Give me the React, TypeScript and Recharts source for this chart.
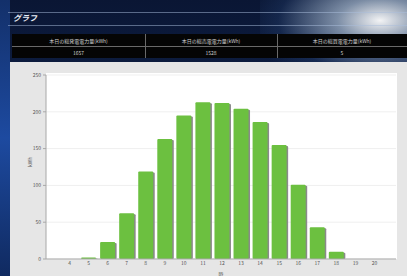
import { BarChart, Bar, XAxis, YAxis, CartesianGrid, Label } from 'recharts';

const hours = ['4', '5', '6', '7', '8', '9', '10', '11', '12', '13', '14', '15', '16', '17', '18', '19', '20'];
const energy = [0, 2, 23, 62, 119, 163, 195, 213, 212, 204, 186, 155, 101, 43, 10, 0, 0];
const yTicks = [0, 50, 100, 150, 200, 250];

const summaryLabels = ['本日の総発電電力量(kWh)', '本日の総売電電力量(kWh)', '本日の総買電電力量(kWh)'];
const summaryValues = ['1657', '1528', '5'];

const data = hours.map((h, i) => ({ hour: h, kwh: energy[i] }));

const FONT = '"Noto Sans CJK JP", "Noto Sans", sans-serif';

// bar with a small grey drop shadow on the right
// eslint-disable-next-line @typescript-eslint/no-explicit-any
const ShadowBar = (props: any) => {
  const { x, y, width, height } = props;
  if (!height || height <= 0) return null;
  return (
    <g>
      <rect x={x + 1.5} y={y + 1} width={width} height={height - 1} fill="#8a8a8a" rx={1} />
      <rect x={x} y={y} width={width} height={height} fill="#6cc040" rx={1} />
    </g>
  );
};

export default function App() {
  const colLeft = [12, 145, 277];
  const colWidth = [133, 132, 130];

  return (
    <div
      style={{
        position: 'fixed',
        left: 0,
        top: 0,
        width: 407,
        height: 276,
        overflow: 'hidden',
        fontFamily: FONT,
        background: 'linear-gradient(180deg, #0a1634 0%, #11254f 60%, #0d1d40 100%)',
      }}
    >
      {/* glare in the top right */}
      <div
        style={{
          position: 'absolute',
          left: 260,
          top: -40,
          width: 200,
          height: 110,
          background: 'radial-gradient(ellipse at 60% 55%, rgba(255,255,255,0.95) 0%, rgba(200,220,240,0.6) 25%, rgba(60,100,160,0.2) 60%, rgba(0,0,0,0) 80%)',
        }}
      />
      <div style={{ position: 'absolute', left: 0, top: 0, width: 10, height: 276, background: 'linear-gradient(180deg, #13306a, #1d4aa0 50%, #102a60)' }} />
      <div style={{ position: 'absolute', left: 8, top: 12, width: 399, height: 1, background: 'rgba(170,190,220,0.5)' }} />
      <div style={{ position: 'absolute', left: 8, top: 25, width: 399, height: 1, background: 'rgba(170,190,220,0.5)' }} />
      <div
        style={{
          position: 'absolute',
          left: 13,
          top: 12,
          fontSize: 8,
          lineHeight: '11px',
          fontWeight: 700,
          fontStyle: 'italic',
          color: '#e8ecf4',
        }}
      >
        グラフ
      </div>

      {/* summary table */}
      <div style={{ position: 'absolute', left: 12, top: 34, width: 395, height: 24, background: '#050505' }} />
      <div style={{ position: 'absolute', left: 12, top: 46, width: 395, height: 1, background: '#6a6a6a' }} />
      {colLeft.slice(1).map((l) => (
        <div key={l} style={{ position: 'absolute', left: l, top: 34, width: 1, height: 24, background: '#6a6a6a' }} />
      ))}
      {summaryLabels.map((t, i) => (
        <div
          key={t}
          style={{
            position: 'absolute',
            left: colLeft[i],
            top: 36,
            width: colWidth[i],
            textAlign: 'center',
            fontSize: 5,
            lineHeight: '9px',
            color: '#d0d0d0',
          }}
        >
          {t}
        </div>
      ))}
      {summaryValues.map((t, i) => (
        <div
          key={i}
          style={{
            position: 'absolute',
            left: colLeft[i],
            top: 48,
            width: colWidth[i],
            textAlign: 'center',
            fontSize: 5,
            lineHeight: '9px',
            color: '#d0d0d0',
          }}
        >
          {t}
        </div>
      ))}

      {/* chart panel */}
      <div style={{ position: 'absolute', left: 10, top: 62, width: 397, height: 214, background: '#e6e6e6' }} />
      <div style={{ position: 'absolute', left: 46, top: 73, width: 351, height: 186, background: '#ffffff' }} />

      <div style={{ position: 'absolute', left: 0, top: 62 }}>
        <BarChart
          width={407}
          height={214}
          data={data}
          margin={{ top: 13, right: 11, left: 10, bottom: 0 }}
          barSize={15}
        >
          <CartesianGrid vertical={false} stroke="#efefef" />
          <XAxis
            dataKey="hour"
            height={17}
            padding={{ left: 14, right: 12 }}
            stroke="#a8a8a8"
            tickLine={false}
            tickSize={2}
            tick={{ fontSize: 5, fill: '#555' }}
            tickMargin={0}
          >
            <Label value="時" position="insideBottom" offset={0} style={{ fontSize: 5, fill: '#555' }} />
          </XAxis>
          <YAxis
            width={36}
            domain={[0, 250]}
            ticks={yTicks}
            stroke="#a8a8a8"
            tickSize={3}
            tick={{ fontSize: 5, fill: '#555' }}
          >
            <Label value="kWh" angle={-90} position="insideLeft" offset={20} style={{ fontSize: 5, fill: '#555' }} />
          </YAxis>
          <Bar dataKey="kwh" shape={ShadowBar} isAnimationActive={false} />
        </BarChart>
      </div>
    </div>
  );
}
